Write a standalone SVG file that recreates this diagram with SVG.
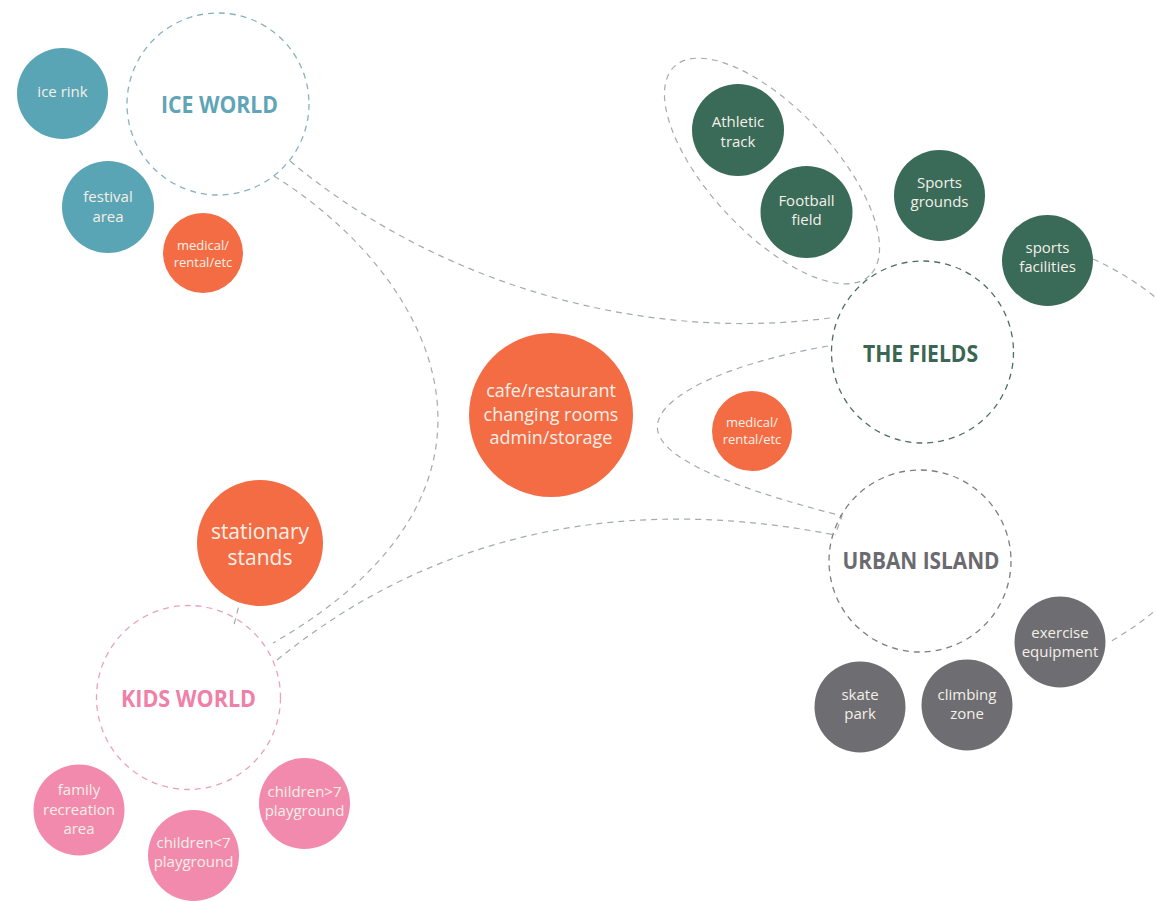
<svg xmlns="http://www.w3.org/2000/svg" width="1156" height="901" viewBox="0 0 1156 901">
<style>
.lbl{font-family:"Open Sans","Noto Sans",sans-serif;fill:#f4f0e8;text-anchor:middle}
.s15{font-size:15px}
.s13{font-size:13px}
.s18{font-size:18px}
.s21{font-size:21px}
.hd{font-family:"Open Sans","Noto Sans",sans-serif;font-weight:700;font-size:24px;text-anchor:middle}
.dash{fill:none;stroke-width:1.3;stroke-dasharray:6 5}
.conn{fill:none;stroke:#a3abae;stroke-width:1.2;stroke-dasharray:6 5}
.teal{fill:#5aa5b5}
.org{fill:#f46c44}
.grn{fill:#3a6a58}
.gry{fill:#6e6d72}
.pnk{fill:#f28aae}
</style>
<rect width="1156" height="901" fill="#ffffff"/>
<g id="connectors">
<path class="conn" d="M290 161 C420 270 620 345 830 318"/>
<path class="conn" d="M274 176 C440 280 540 490 273 643"/>
<path class="conn" d="M277 660 C400 560 580 485 835 535"/>
<path class="conn" d="M828 346 C720 365 650 400 658 432 C666 465 760 495 842 516 L835 535"/>
<path class="conn" d="M241 597 L233 629"/>
<path class="conn" d="M1093 259 C1270 340 1290 540 1108 643"/>
<ellipse class="conn" cx="772" cy="171" rx="143" ry="62" transform="rotate(47 772 171)"/>
</g>
<g id="ice-world">
<circle class="dash" cx="218" cy="104" r="91" fill="#fff" stroke="#86b3bb"/>
<text class="hd" x="219.5" y="113" fill="#5fa5b6" textLength="117" lengthAdjust="spacingAndGlyphs">ICE WORLD</text>
</g>
<g id="ice-rink"><circle class="teal" cx="62.5" cy="93.5" r="45.5"/><text class="lbl s15" x="62.5" y="97">ice rink</text></g>
<g id="festival-area"><circle class="teal" cx="108" cy="207" r="46"/><text class="lbl s15" x="108" y="202">festival</text><text class="lbl s15" x="108" y="222">area</text></g>
<g id="medical-1"><circle class="org" cx="203" cy="253" r="40"/><text class="lbl s13" x="203" y="250">medical/</text><text class="lbl s13" x="203" y="267">rental/etc</text></g>
<g id="cafe"><circle class="org" cx="551" cy="415" r="82"/><text class="lbl s18" x="551" y="397">cafe/restaurant</text><text class="lbl s18" x="551" y="421">changing rooms</text><text class="lbl s18" x="551" y="444">admin/storage</text></g>
<g id="medical-2"><circle class="org" cx="752" cy="431" r="40"/><text class="lbl s13" x="752" y="427">medical/</text><text class="lbl s13" x="752" y="444">rental/etc</text></g>
<g id="stationary-stands"><circle class="org" cx="260" cy="543" r="63"/><text class="lbl s21" x="260" y="539">stationary</text><text class="lbl s21" x="260" y="565">stands</text></g>
<g id="kids-world">
<circle class="dash" cx="188.5" cy="697.5" r="92" fill="none" stroke="#e9a3bc"/>
<text class="hd" x="188.5" y="707" fill="#ef80a8" textLength="135" lengthAdjust="spacingAndGlyphs">KIDS WORLD</text>
</g>
<g id="family-recreation"><circle class="pnk" cx="79" cy="810" r="45.5"/><text class="lbl s15" x="79" y="795">family</text><text class="lbl s15" x="79" y="815">recreation</text><text class="lbl s15" x="79" y="834">area</text></g>
<g id="children-under-7"><circle class="pnk" cx="193.5" cy="855.5" r="45.5"/><text class="lbl s15" x="193.5" y="848">children&lt;7</text><text class="lbl s15" x="193.5" y="867">playground</text></g>
<g id="children-over-7"><circle class="pnk" cx="304.5" cy="803.5" r="45.5"/><text class="lbl s15" x="304.5" y="797">children&gt;7</text><text class="lbl s15" x="304.5" y="816">playground</text></g>
<g id="athletic-track"><circle class="grn" cx="738" cy="130" r="46"/><text class="lbl s15" x="738" y="127">Athletic</text><text class="lbl s15" x="738" y="147">track</text></g>
<g id="football-field"><circle class="grn" cx="806.5" cy="212" r="46"/><text class="lbl s15" x="806.5" y="206">Football</text><text class="lbl s15" x="806.5" y="225">field</text></g>
<g id="sports-grounds"><circle class="grn" cx="939.5" cy="195.5" r="45.5"/><text class="lbl s15" x="939.5" y="188">Sports</text><text class="lbl s15" x="939.5" y="207">grounds</text></g>
<g id="sports-facilities"><circle class="grn" cx="1047.5" cy="260.5" r="45.5"/><text class="lbl s15" x="1047.5" y="253">sports</text><text class="lbl s15" x="1047.5" y="272">facilities</text></g>
<g id="the-fields">
<circle class="dash" cx="922.5" cy="352" r="91" fill="none" stroke="#4d6e62"/>
<text class="hd" x="920.5" y="362" fill="#3a6653" textLength="115" lengthAdjust="spacingAndGlyphs">THE FIELDS</text>
</g>
<g id="urban-island">
<circle class="dash" cx="920" cy="561" r="91" fill="none" stroke="#7d7d82"/>
<text class="hd" x="921" y="569" fill="#6b6a6f" textLength="157" lengthAdjust="spacingAndGlyphs">URBAN ISLAND</text>
</g>
<g id="exercise-equipment"><circle class="gry" cx="1060" cy="642" r="45.5"/><text class="lbl s15" x="1060" y="638">exercise</text><text class="lbl s15" x="1060" y="657">equipment</text></g>
<g id="skate-park"><circle class="gry" cx="860" cy="707" r="45.5"/><text class="lbl s15" x="860" y="700">skate</text><text class="lbl s15" x="860" y="719">park</text></g>
<g id="climbing-zone"><circle class="gry" cx="967" cy="705" r="45.5"/><text class="lbl s15" x="967" y="700">climbing</text><text class="lbl s15" x="967" y="719">zone</text></g>
</svg>
